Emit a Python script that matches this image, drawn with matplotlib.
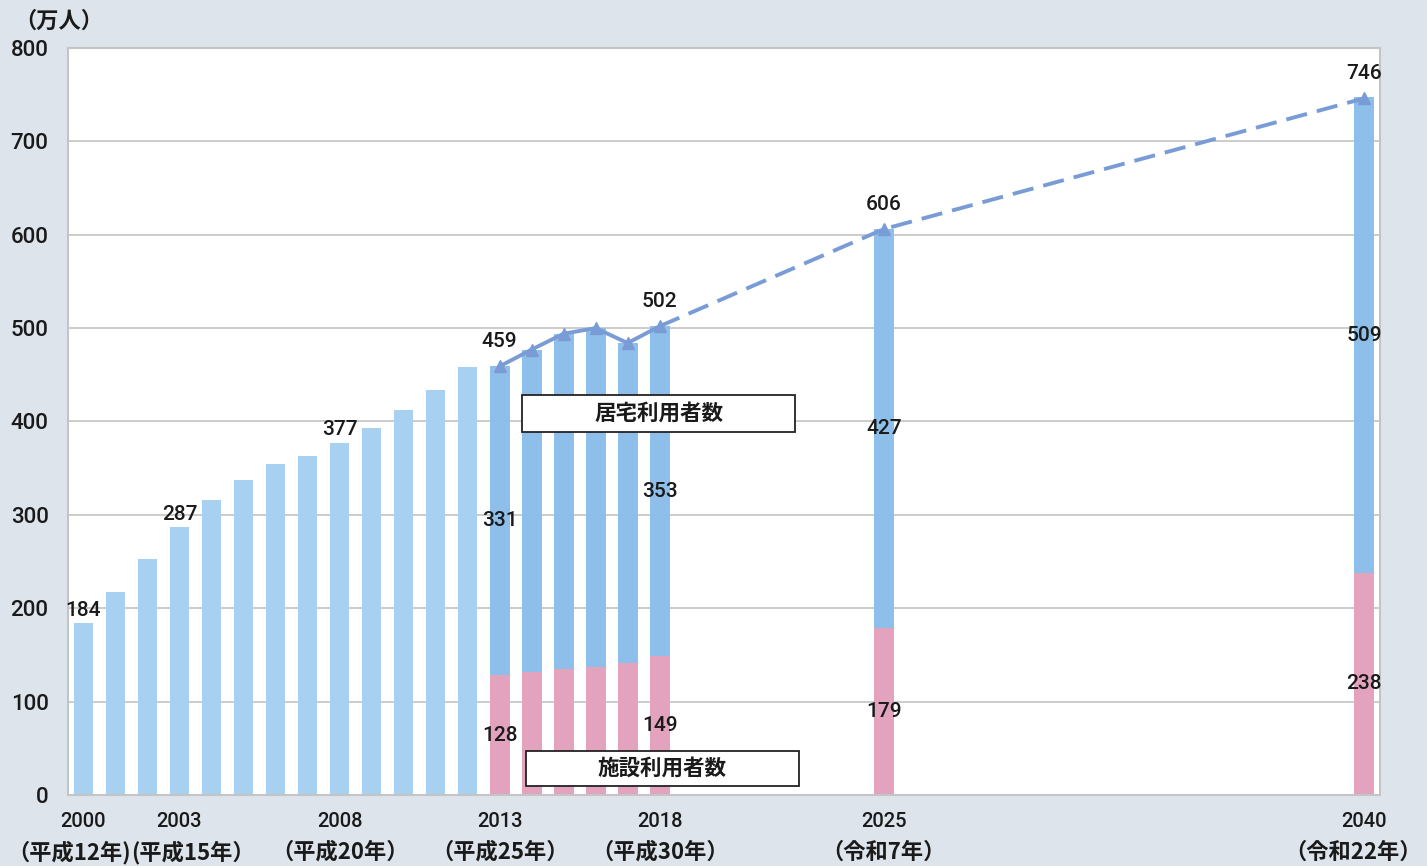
import numpy as np
import matplotlib.pyplot as plt
from matplotlib.patches import Rectangle
from matplotlib.transforms import blended_transform_factory

plt.rcParams['font.family'] = ['Roboto', 'Noto Sans CJK JP']

# 2000〜2012年：利用者数合計
years_total = list(range(2000, 2013))
total_early = [184, 217, 253, 287, 316, 337, 354, 363, 377, 393, 412, 434, 458]

# 2013年以降：施設利用者数＋居宅利用者数（2025・2040は推計）
years_split = [2013, 2014, 2015, 2016, 2017, 2018, 2025, 2040]
shisetsu = [128, 132, 135, 137, 141, 149, 179, 238]
kyotaku = [331, 345, 359, 363, 343, 353, 427, 509]
total_split = [459, 477, 494, 500, 484, 502, 606, 746]

# 数値ラベルを付ける年
top_label_years = [2000, 2003, 2008]
seg_label_years = [2013, 2018, 2025, 2040]

tick_years = [2000, 2003, 2008, 2013, 2018, 2025, 2040]
era_labels = ['（平成12年)', '(平成15年）', '（平成20年）', '（平成25年）',
              '（平成30年）', '（令和7年）', '（令和22年）']

BG = '#dde4ec'
C_EARLY = '#a8d0f0'
C_HOME = '#8dbfea'
C_FAC = '#e3a3bf'
C_LINE = '#7a9cd6'
TXT = '#1a1a1a'
CJK = ['Noto Sans CJK JP']

fig = plt.figure(figsize=(14.27, 8.66), dpi=100, facecolor=BG)
ax = fig.add_axes([0.0477, 0.082, 0.9193, 0.8626])
ax.set_facecolor('white')

w = 0.62
ax.bar(years_total, total_early, width=w, color=C_EARLY, zorder=2)
ax.bar(years_split, shisetsu, width=w, color=C_FAC, zorder=2)
ax.bar(years_split, kyotaku, width=w, bottom=shisetsu, color=C_HOME, zorder=2)

# 合計の推移（実績は実線、推計は破線）
n_actual = 6
ax.plot(years_split[:n_actual], total_split[:n_actual], color=C_LINE, lw=2.8,
        marker='^', ms=8, zorder=3)
ax.plot(years_split[n_actual - 1:], total_split[n_actual - 1:], color=C_LINE, lw=2.8,
        ls=(0, (5.5, 2.6)), marker='^', ms=8, markevery=[1, 2], zorder=3)

lab_kw = dict(ha='center', fontsize=15, fontweight='medium', color=TXT, zorder=5)
for y, v in zip(years_total, total_early):
    if y in top_label_years:
        ax.text(y, v + 8, str(v), va='baseline', **lab_kw)
for y, s, k, t in zip(years_split, shisetsu, kyotaku, total_split):
    if y in seg_label_years:
        ax.text(y, t + 21, str(t), va='baseline', **lab_kw)
        ax.text(y, s + k / 2, str(k), va='center', **lab_kw)
        ax.text(y, s / 2, str(s), va='center', **lab_kw)

# 系列名の注記ボックス
for x0, x1, y0, y1, name in [(2013.70, 2022.23, 388.7, 428.3, '居宅利用者数'),
                             (2013.82, 2022.35, 9.6, 47.1, '施設利用者数')]:
    ax.add_patch(Rectangle((x0, y0), x1 - x0, y1 - y0, fc='white', ec='#222222',
                           lw=1.3, zorder=6))
    ax.text((x0 + x1) / 2, (y0 + y1) / 2, name, family=CJK, fontsize=15.5,
            fontweight='bold', color=TXT, ha='center', va='center', zorder=7)

ax.set_xlim(1999.52, 2040.5)
ax.set_ylim(0, 800)
ax.set_yticks(np.arange(0, 801, 100))
ax.yaxis.grid(True, color='#c4c4c4', lw=1.2, zorder=0)
ax.set_axisbelow(True)
ax.tick_params(axis='both', length=0, colors=TXT)
ax.tick_params(axis='y', pad=14, labelsize=16)
ax.tick_params(axis='x', pad=12, labelsize=14.5)
ax.set_xticks(tick_years)
ax.set_xticklabels([str(y) for y in tick_years], fontweight='medium')
for lbl in ax.get_yticklabels():
    lbl.set_fontweight('medium')
for sp in ax.spines.values():
    sp.set_color('#c4c4c4')
    sp.set_linewidth(1.5)

# 和暦の2行目（両端と2000・2003の隣り合う部分は寄せて配置）
trans = blended_transform_factory(ax.transData, ax.transAxes)
for i, (y, lab) in enumerate(zip(tick_years, era_labels)):
    if i == 0:
        x, ha = 2001.49, 'right'
    elif i == 1:
        x, ha = 2001.49, 'left'
    elif y == tick_years[-1]:
        x, ha = 2041.80, 'right'
    else:
        x, ha = y, 'center'
    ax.text(x, -0.077, lab, transform=trans, family=CJK, fontsize=16,
            fontweight='bold', color=TXT, ha=ha, va='center')

fig.text(0.010, 0.975, '（万人）', family=CJK, fontsize=16, fontweight='bold',
         color=TXT, va='center', ha='left')

fig.savefig('out.png', dpi=100, facecolor=BG)
